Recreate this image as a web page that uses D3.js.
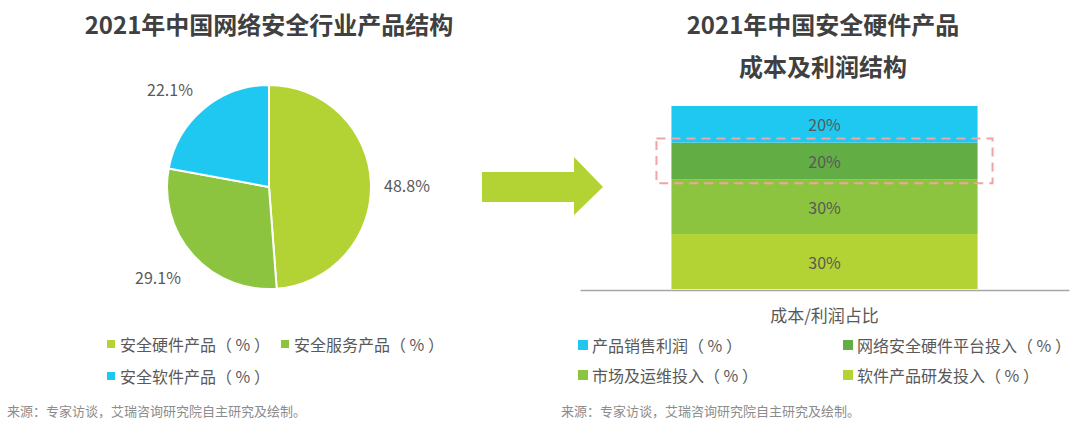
<!DOCTYPE html>
<html><head><meta charset="utf-8">
<script src="https://cdn.jsdelivr.net/npm/d3@7"></script>
<style>
html,body{margin:0;padding:0;background:#fff;}
svg{display:block;font-family:"Noto Sans CJK SC","Noto Sans",sans-serif;}
</style></head>
<body>
<svg id="c" width="1080" height="426"></svg>
<script>
// Pie data
const pieCategories = ["安全硬件产品（ % ）", "安全服务产品（ % ）", "安全软件产品（ % ）"];
const pieValues = [48.8, 29.1, 22.1];
const pieColors = ["#b3d334", "#8cc43f", "#1fc8f1"];

// Stacked bar data (bottom to top)
const barCategory = ["成本/利润占比"];
const stackNames = ["软件产品研发投入（ % ）", "市场及运维投入（ % ）", "网络安全硬件平台投入（ % ）", "产品销售利润（ % ）"];
const stackValues = [30, 30, 20, 20];
const stackColors = ["#b3d334", "#8cc43f", "#62ae45", "#1fc8f1"];
const legendOrder = [3, 2, 1, 0];

const svg = d3.select("#c");
const textColor = "#595959";

// Titles
svg.append("text").attr("x", 269).attr("y", 34).attr("text-anchor", "middle")
  .attr("font-size", 24).attr("font-weight", "bold").attr("fill", "#404040")
  .text("2021年中国网络安全行业产品结构");
svg.append("text").attr("x", 823).attr("y", 34).attr("text-anchor", "middle")
  .attr("font-size", 24).attr("font-weight", "bold").attr("fill", "#404040")
  .text("2021年中国安全硬件产品");
svg.append("text").attr("x", 823).attr("y", 76).attr("text-anchor", "middle")
  .attr("font-size", 24).attr("font-weight", "bold").attr("fill", "#404040")
  .text("成本及利润结构");

// Pie
const cx = 269, cy = 187, R = 102;
const pie = d3.pie().sort(null).value(d => d);
const arcs = pie(pieValues);
const arc = d3.arc().innerRadius(0).outerRadius(R);
const pg = svg.append("g").attr("transform", `translate(${cx},${cy})`);
pg.selectAll("path").data(arcs).join("path")
  .attr("d", arc).attr("fill", (d, i) => pieColors[i])
  .attr("stroke", "#fff").attr("stroke-width", 2);
const labelPos = [[138, -2], [-111, 90], [-99, -98]];
pg.selectAll("text.pl").data(arcs).join("text").attr("class", "pl")
  .attr("x", (d, i) => labelPos[i][0]).attr("y", (d, i) => labelPos[i][1])
  .attr("text-anchor", "middle").attr("dominant-baseline", "central")
  .attr("font-size", 16).attr("fill", textColor)
  .text(d => d.data.toFixed(1) + "%");

// Pie legend
const pieLegPos = [[111, 344], [285, 344], [111, 376]];
pieCategories.forEach((name, i) => {
  const [lx, ly] = pieLegPos[i];
  svg.append("rect").attr("x", lx - 4).attr("y", ly - 4).attr("width", 8).attr("height", 8).attr("fill", pieColors[i]);
  svg.append("text").attr("x", lx + 9).attr("y", ly).attr("dominant-baseline", "central")
    .attr("font-size", 16).attr("fill", textColor).text(name);
});

// Arrow
const arrowPts = [[482, 172], [574, 172], [574, 157], [603, 187], [574, 215], [574, 202], [482, 202]];
svg.append("path").attr("d", d3.line()(arrowPts) + "Z").attr("fill", "#b3d334");

// Stacked bar
const x = d3.scaleBand().domain(barCategory).range([580, 1069]).padding(0.23);
const y = d3.scaleLinear().domain([0, 100]).range([289, 106]);
let acc = 0;
const segs = stackValues.map((v, i) => { const s = { i, y0: acc, y1: acc + v, v }; acc += v; return s; });
const bg = svg.append("g");
bg.selectAll("rect").data(segs).join("rect")
  .attr("x", x(barCategory[0])).attr("width", x.bandwidth())
  .attr("y", d => y(d.y1)).attr("height", d => y(d.y0) - y(d.y1))
  .attr("fill", d => stackColors[d.i]);
bg.selectAll("text").data(segs).join("text")
  .attr("x", x(barCategory[0]) + x.bandwidth() / 2)
  .attr("y", d => (y(d.y0) + y(d.y1)) / 2)
  .attr("text-anchor", "middle").attr("dominant-baseline", "central")
  .attr("font-size", 16).attr("fill", textColor)
  .text(d => d.v + "%");

// Axis
const axis = svg.append("g").attr("transform", "translate(0,290)")
  .call(d3.axisBottom(x).tickSize(0).tickPadding(20));
axis.select(".domain").attr("stroke", "#a6a6a6").attr("stroke-width", 1.5);
axis.selectAll("text").attr("font-size", 17).attr("fill", textColor)
  .attr("font-family", "Noto Sans CJK SC");

// Dashed highlight box
const hs = segs[2];
svg.append("rect")
  .attr("x", x(barCategory[0]) - 15).attr("width", x.bandwidth() + 30)
  .attr("y", y(hs.y1) - 4).attr("height", y(hs.y0) - y(hs.y1) + 8)
  .attr("fill", "none").attr("stroke", "#f2a3a3").attr("stroke-width", 2)
  .attr("stroke-dasharray", "9,6");

// Bar legend
const barLegPos = [[583, 345], [848, 345], [583, 375], [848, 375]];
legendOrder.forEach((si, k) => {
  const [lx, ly] = barLegPos[k];
  svg.append("rect").attr("x", lx - 5).attr("y", ly - 5).attr("width", 10).attr("height", 10).attr("fill", stackColors[si]);
  svg.append("text").attr("x", lx + 9).attr("y", ly).attr("dominant-baseline", "central")
    .attr("font-size", 16).attr("fill", textColor).text(stackNames[si]);
});

// Sources
[7, 561].forEach(sx => {
  svg.append("text").attr("x", sx).attr("y", 410).attr("dominant-baseline", "central")
    .attr("font-size", 13).attr("fill", "#8c8c8c")
    .text("来源：专家访谈，艾瑞咨询研究院自主研究及绘制。");
});
</script>
</body></html>
